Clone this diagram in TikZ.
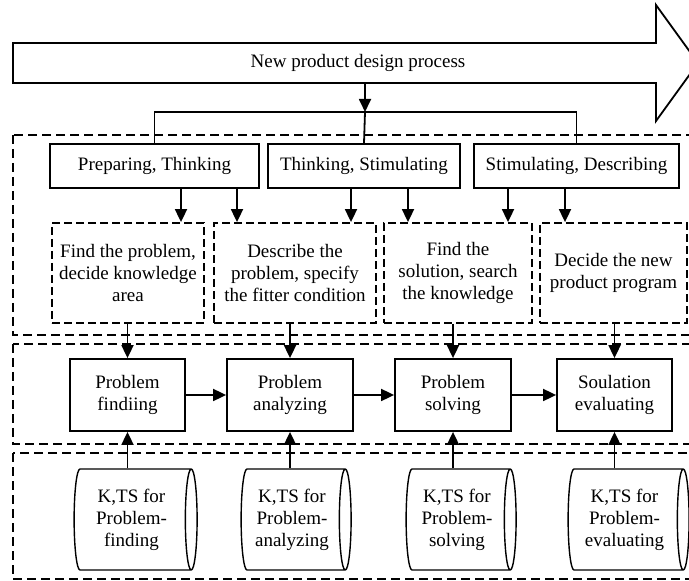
\documentclass[tikz,border=0pt]{standalone}
\usepackage{fontspec}
\setmainfont{Liberation Serif}
\usetikzlibrary{shapes.geometric,arrows.meta}

\begin{document}
\begin{tikzpicture}[x=0.5pt,y=-0.5pt,
    every node/.style={font=\fontsize{9.5}{11}\selectfont},
    stage/.style={draw, line width=0.9pt, align=center, inner sep=2pt, minimum height=22pt},
    task/.style={draw, line width=0.9pt, dash pattern=on 4pt off 2pt, align=center, inner sep=2pt, minimum height=50pt},
    phase/.style={draw, line width=0.9pt, align=center, inner sep=2pt, minimum height=36pt},
    store/.style={draw, cylinder, aspect=0.18, line width=0.7pt, align=center, inner sep=1pt, minimum width=50.5pt},
    zone/.style={line width=0.8pt, dash pattern=on 4.5pt off 2.5pt},
    arr/.style={line width=0.9pt, -{Triangle[length=6.5pt,width=6pt]}}
]
    \useasboundingbox (0,0) rectangle (689,581);
    \clip (0,0) rectangle (689,581);

    % 1. Big process arrow on top
    \draw[line width=0.9pt] (13,43) -- (656,43) -- (656,5) -- (698,63)
        -- (656,121) -- (656,83) -- (13,83) -- cycle;
    \node (proc) at (358,63) {New product design process};
    \coordinate (procbot) at (365,83);
    \coordinate (split) at (365,112);

    % 2. Dashed zones
    \draw[zone] (13,135) rectangle (700,335);
    \draw[zone] (13,344) rectangle (700,444);
    \draw[zone] (13,453) rectangle (700,579);

    % 3. Thinking stages
    \node[stage, minimum width=104.5pt] (t1) at (154.5,166) {Preparing, Thinking};
    \node[stage, minimum width=96pt]    (t2) at (364,166)   {Thinking, Stimulating};
    \node[stage, minimum width=102.5pt] (t3) at (576.5,166) {Stimulating, Describing};

    % 4. Tasks (dashed boxes)
    \node[task, minimum width=76pt]   (d1) at (128,273)   {Find the problem,\\decide knowledge\\area};
    \node[task, minimum width=81pt]   (d2) at (295,273)   {Describe the\\problem, specify\\the fitter condition};
    \node[task, minimum width=74pt]   (d3) at (458,273)   {Find the\\solution, search\\the knowledge};
    \node[task, minimum width=73.5pt] (d4) at (613.5,273) {Decide the new\\product program};

    % 5. Design phases
    \node[phase, minimum width=57.5pt] (m1) at (127.5,395) {Problem\\findiing};
    \node[phase, minimum width=63pt]   (m2) at (290,395)   {Problem\\analyzing};
    \node[phase, minimum width=58pt]   (m3) at (453,395)   {Problem\\solving};
    \node[phase, minimum width=57.5pt] (m4) at (614.5,395) {Soulation\\evaluating};

    % 6. Knowledge stores
    \node[store, minimum height=61.5pt] (c1) at (131.5,519.5) {K,TS for\\Problem-\\finding};
    \node[store, minimum height=55pt]   (c2) at (292,519.5)   {K,TS for\\Problem-\\analyzing};
    \node[store, minimum height=55pt]   (c3) at (457,519.5)   {K,TS for\\Problem-\\solving};
    \node[store, minimum height=60.5pt] (c4) at (624.5,519.5) {K,TS for\\Problem-\\evaluating};

    % 7. Connectors
    \draw[arr] (procbot) -- (split);
    \draw[line width=0.9pt] (t1.north) |- (split) -| (t3.north);
    \draw[line width=0.9pt] (split) -- (t2.north);

    \foreach \s/\d/\x in {t1/d1/181, t1/d2/237, t2/d2/351, t2/d3/408, t3/d3/508, t3/d4/565} {
        \draw[arr] (\s.south -| \x,0) -- (\d.north -| \x,0);
    }

    \foreach \i in {1,...,4} {
        \draw[arr] (d\i.south -| m\i.north) -- (m\i.north);
        \draw[arr] (m\i.south |- c\i.north) -- (m\i.south);
    }

    \foreach \a/\b in {m1/m2, m2/m3, m3/m4} {
        \draw[arr] (\a.east) -- (\b.west);
    }

\end{tikzpicture}
\end{document}
